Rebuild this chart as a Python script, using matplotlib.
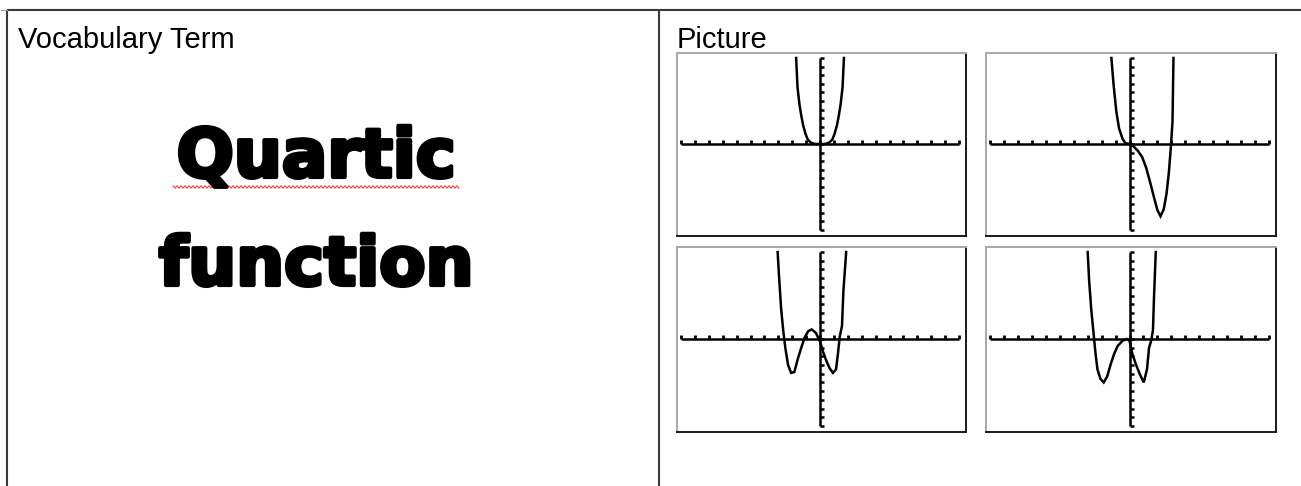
import numpy as np
import matplotlib
matplotlib.use("Agg")
import matplotlib.pyplot as plt
import matplotlib.patheffects as pe

# card text
header_left = "Vocabulary Term"
header_right = "Picture"
term_lines = ["Quartic", "function"]

# curves (window -10..10 on both axes)
x1 = [-1.72, -1.62, -1.48, -1.35, -1.22, -1.05, -0.88, -0.65, -0.35, 0.0,
      0.35, 0.65, 0.88, 1.05, 1.22, 1.35, 1.48, 1.62, 1.72]
y1 = [10.0, 6.6, 4.6, 3.3, 2.2, 1.2, 0.5, 0.15, 0.0, 0.0,
      0.0, 0.15, 0.5, 1.2, 2.2, 3.3, 4.6, 6.6, 10.0]

x2 = [-1.3, -1.15, -0.95, -0.75, -0.5, -0.3, 0.0, 0.3, 0.6, 0.9, 1.2, 1.5,
      1.8, 2.0, 2.22, 2.45, 2.65, 2.82, 2.97, 3.08, 3.15]
y2 = [10.0, 7.0, 3.8, 1.8, 0.6, 0.1, 0.0, -0.3, -0.8, -1.5, -2.8, -4.6,
      -6.5, -7.7, -8.4, -7.6, -5.8, -3.3, -0.2, 2.6, 10.0]

x3 = [-3.05, -2.95, -2.8, -2.65, -2.5, -2.3, -2.08, -1.85, -1.6, -1.35, -1.1,
      -0.85, -0.6, -0.3, 0.0, 0.2, 0.45, 0.7, 0.93, 1.15, 1.28, 1.42, 1.58,
      1.68, 1.88]
y3 = [10.0, 7.2, 3.5, 1.0, -1.0, -3.0, -3.9, -3.8, -2.3, -1.0, 0.2,
      0.9, 1.1, 0.7, -0.3, -1.4, -2.5, -3.4, -3.9, -3.5, -1.8, 0.3, 1.5,
      5.5, 10.0]

x4 = [-3.0, -2.9, -2.75, -2.6, -2.45, -2.3, -2.08, -1.85, -1.6, -1.35, -1.1,
      -0.85, -0.5, -0.2, 0.0, 0.2, 0.45, 0.75, 1.02, 1.25, 1.4, 1.55, 1.68,
      1.75, 1.88]
y4 = [10.0, 6.8, 3.5, 1.0, -1.5, -3.5, -4.6, -5.0, -4.3, -2.9, -1.7,
      -0.8, -0.2, 0.0, -0.2, -1.7, -2.9, -4.1, -5.0, -3.5, -1.0, -0.2, 1.0,
      4.6, 10.0]

curves = [(x1, y1), (x2, y2), (x3, y3), (x4, y4)]

W, H = 1301, 486
fig = plt.figure(figsize=(W / 100, H / 100), dpi=100)

# background axes in pixel units for the table, text and underline
bg = fig.add_axes([0, 0, 1, 1])
bg.set_xlim(0, W)
bg.set_ylim(H, 0)
bg.axis("off")

line_kw = dict(color="#3a3a3a", lw=1.5, solid_capstyle="butt")
bg.plot([7, W], [10, 10], **line_kw)
bg.plot([7, 7], [10, H], **line_kw)
bg.plot([659, 659], [10, H], **line_kw)
bg.plot([1, 7], [10, 10], color="#9a9a9a", lw=0.8)

bg.text(18, 48, header_left, fontsize=21, family="Liberation Sans",
        va="baseline", ha="left")
bg.text(677, 48, header_right, fontsize=21, family="Liberation Sans",
        va="baseline", ha="left")

thick = [pe.withStroke(linewidth=3, foreground="black")]
bg.text(316, 177, term_lines[0], fontsize=48.5, family="DejaVu Sans",
        weight="bold", ha="center", va="baseline", path_effects=thick)
bg.text(316, 285, term_lines[1], fontsize=48.5, family="DejaVu Sans",
        weight="bold", ha="center", va="baseline", path_effects=thick)

# spell-check squiggle under the first word
zx = np.arange(173, 461, 2)
zy = 187 + np.where((np.arange(len(zx)) % 2) == 0, -1.2, 1.2)
bg.plot(zx, zy, color="#ff3b3b", lw=0.8)

# four calculator screens: (left, top, right, bottom) in pixels
boxes = [(677, 53, 966, 236), (986, 53, 1276, 236),
         (677, 247, 966, 432), (986, 247, 1276, 432)]

for (l, t, r, b), (cx, cy) in zip(boxes, curves):
    ax = fig.add_axes([l / W, 1 - b / H, (r - l) / W, (b - t) / H])
    ax.set_xlim(-10.29, 10.5)
    ax.set_ylim(-10.7, 10.58)
    ax.set_xticks([])
    ax.set_yticks([])
    for s in ("left", "top"):
        ax.spines[s].set_color("#a8a8a8")
        ax.spines[s].set_linewidth(1.4)
    for s in ("right", "bottom"):
        ax.spines[s].set_color("#1a1a1a")
        ax.spines[s].set_linewidth(1.4)

    # calculator axes with unit ticks
    ax.plot([-10, 10], [0, 0], color="black", lw=1.8, solid_capstyle="butt")
    ax.plot([0, 0], [-10, 10], color="black", lw=1.8, solid_capstyle="butt")
    ticks = np.arange(-10, 11)
    ax.vlines(ticks, 0, 0.5, color="black", lw=2)
    ax.hlines(ticks, 0, 0.3, color="black", lw=1.8)

    ax.plot(cx, cy, color="black", lw=1.8, solid_joinstyle="miter")

fig.savefig("out.png", dpi=100)
